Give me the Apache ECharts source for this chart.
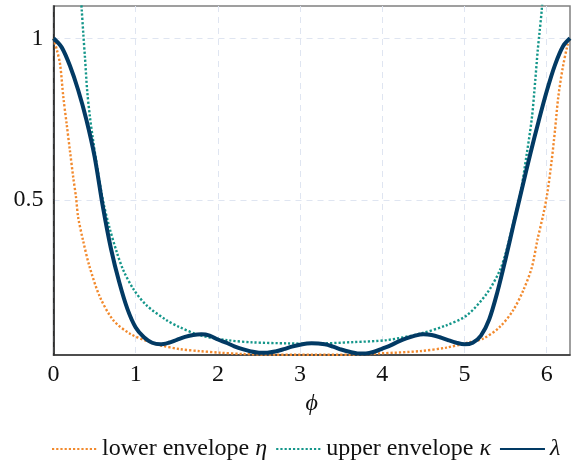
<!DOCTYPE html>
<html>
<head>
<meta charset="utf-8">
<script src="https://cdn.jsdelivr.net/npm/echarts@6.0.0/dist/echarts.min.js"></script>
<style>
  html, body { margin: 0; padding: 0; background: #fff; }
  #chart { width: 580px; height: 463px; }
</style>
</head>
<body>
<div id="chart"></div>
<script>
// ---------------------------------------------------------- data
var xTicks = [0, 1, 2, 3, 4, 5, 6];
var yTicks = [0.5, 1];

var lambdaPhi = [0, 0.1, 0.2, 0.3, 0.4, 0.5, 0.6, 0.7, 0.8, 0.9, 1.0, 1.1, 1.2, 1.3, 1.4, 1.5, 1.6, 1.7, 1.8, 1.9, 2.0, 2.1, 2.2, 2.3, 2.4, 2.5,
                 2.6, 2.7, 2.8, 2.9, 3.0, 3.14, 3.3, 3.4, 3.5, 3.6, 3.7, 3.8, 3.9, 4.0, 4.1, 4.2, 4.3, 4.4, 4.5, 4.6, 4.7, 4.8, 4.9, 5.0,
                 5.1, 5.2, 5.3, 5.4, 5.5, 5.6, 5.7, 5.8, 5.9, 6.0, 6.1, 6.2, 6.2832];
var lambdaVal = [1.0, 0.972, 0.915, 0.840, 0.748, 0.634, 0.480, 0.348, 0.245, 0.162, 0.105, 0.075, 0.058, 0.053, 0.058, 0.067, 0.076, 0.082, 0.084, 0.080, 0.068, 0.058, 0.047, 0.038, 0.031, 0.027,
                 0.027, 0.031, 0.038, 0.046, 0.052, 0.056, 0.053, 0.046, 0.037, 0.030, 0.025, 0.025, 0.030, 0.040, 0.050, 0.062, 0.072, 0.080, 0.084, 0.082, 0.075, 0.066, 0.058, 0.053,
                 0.058, 0.080, 0.130, 0.215, 0.318, 0.428, 0.536, 0.642, 0.742, 0.836, 0.917, 0.976, 1.0];

var etaPhi = [0, 0.04, 0.08, 0.12, 0.16, 0.20, 0.24, 0.274, 0.30, 0.36, 0.44, 0.566, 0.73, 0.93, 1.17, 1.30, 1.54, 1.78, 2.03, 2.31, 2.7, 3.14,
              3.6, 3.97, 4.46, 4.78, 5.07, 5.23, 5.43, 5.59, 5.715, 5.82, 5.885, 5.96, 6.007, 6.06, 6.10, 6.14, 6.195, 6.255, 6.2832];
var etaVal = [1.0, 0.965, 0.92, 0.817, 0.735, 0.652, 0.570, 0.508, 0.446, 0.374, 0.292, 0.199, 0.127, 0.086, 0.060, 0.050, 0.038, 0.032, 0.027, 0.023, 0.021, 0.021,
              0.021, 0.025, 0.032, 0.043, 0.060, 0.071, 0.107, 0.158, 0.220, 0.292, 0.374, 0.457, 0.520, 0.621, 0.714, 0.817, 0.909, 0.981, 1.0];

var kappaPhi = [0.32, 0.343, 0.363, 0.383, 0.41, 0.444, 0.477, 0.525, 0.60, 0.68, 0.77, 0.85, 0.97, 1.13, 1.38, 1.52, 1.78, 2.11, 2.43, 2.84, 3.14,
                3.65, 4.05, 4.46, 4.78, 5.03, 5.27, 5.43, 5.51, 5.60, 5.68, 5.757, 5.82, 5.86, 5.89, 5.91, 5.94, 5.96];
var kappaVal = [1.18, 1.09, 1.012, 0.94, 0.837, 0.755, 0.693, 0.611, 0.50, 0.415, 0.338, 0.282, 0.225, 0.174, 0.127, 0.108, 0.081, 0.066, 0.059, 0.056, 0.055,
                0.060, 0.066, 0.086, 0.112, 0.143, 0.210, 0.282, 0.343, 0.435, 0.520, 0.642, 0.755, 0.868, 0.961, 1.012, 1.09, 1.18];

// ---------------------------------------------------------- helpers
function zip(xs, ys) {
    return xs.map(function (x, i) { return [x, ys[i]]; });
}

var serif = '"Liberation Serif", "DejaVu Serif", serif';

var dom = document.getElementById('chart');
var myChart = echarts.init(dom, null, { renderer: 'canvas' });

var gridDash = {
    show: true,
    lineStyle: { color: '#dfe5f1', width: 1, type: [6, 5] }
};

var option = {
    animation: false,
    backgroundColor: '#ffffff',
    grid: {
        left: 53.5,
        right: 10,
        top: 6,
        bottom: 108,
        show: true,
        borderColor: '#808080',
        borderWidth: 1.5
    },
    legend: {
        left: 46,
        top: 432,
        itemWidth: 45,
        itemHeight: 14,
        itemGap: 8,
        itemStyle: { opacity: 0 },
        data: ['lower envelope η', 'upper envelope κ', 'λ'],
        formatter: function (name) {
            return name.replace(/([ηκλ])/, '{g|$1}');
        },
        textStyle: {
            fontFamily: serif,
            fontSize: 24,
            lineHeight: 24,
            color: '#111',
            rich: {
                g: { fontFamily: serif, fontSize: 24, fontStyle: 'italic', color: '#111' }
            }
        }
    },
    xAxis: {
        type: 'value',
        min: 0,
        max: 6.2832,
        name: 'ϕ',
        nameLocation: 'middle',
        nameGap: 24,
        nameTextStyle: { fontFamily: serif, fontSize: 24, fontStyle: 'italic', color: '#111' },
        axisLine: { show: true, lineStyle: { color: '#333', width: 1.5 } },
        axisTick: { show: false, customValues: xTicks },
        axisLabel: { customValues: xTicks, fontFamily: serif, fontSize: 24, color: '#111', margin: 8 },
        splitLine: gridDash
    },
    yAxis: {
        type: 'value',
        min: 0.02,
        max: 1.1,
        axisLine: { show: true, lineStyle: { color: '#111', width: 1.5 } },
        axisTick: { show: false, customValues: yTicks },
        axisLabel: { customValues: yTicks, fontFamily: serif, fontSize: 24, color: '#111', margin: 10 },
        splitLine: gridDash
    },
    series: [
        {
            name: 'lower envelope η',
            type: 'line',
            symbol: 'none',
            smooth: 0.3,
            clip: true,
            lineStyle: { color: '#F28A2E', width: 2.4, type: [2.2, 2] },
            itemStyle: { color: '#F28A2E' },
            data: zip(etaPhi, etaVal)
        },
        {
            name: 'upper envelope κ',
            type: 'line',
            symbol: 'none',
            smooth: 0.3,
            clip: true,
            lineStyle: { color: '#14968A', width: 2.4, type: [2.2, 2] },
            itemStyle: { color: '#14968A' },
            data: zip(kappaPhi, kappaVal)
        },
        {
            name: 'λ',
            type: 'line',
            symbol: 'none',
            smooth: 0.3,
            clip: true,
            lineStyle: { color: '#023A64', width: 4 },
            itemStyle: { color: '#023A64' },
            data: zip(lambdaPhi, lambdaVal)
        }
    ]
};

myChart.setOption(option);
</script>
</body>
</html>
